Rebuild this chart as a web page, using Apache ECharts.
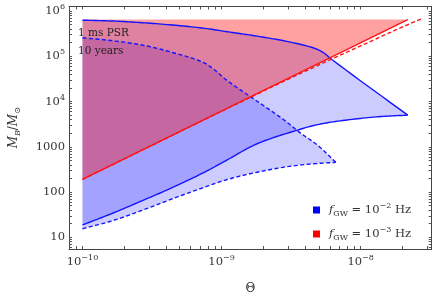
<!DOCTYPE html>
<html><head><meta charset="utf-8">
<script src="https://cdn.jsdelivr.net/npm/echarts@6/dist/echarts.min.js"></script>
<style>html,body{margin:0;padding:0;background:#fff}#c{width:436px;height:300px}</style>
</head><body><div id="c"></div>
<script>
// ---- data (Theta, M_B/M_sun) ----
const xMajor = [1e-10, 1e-9, 1e-8];
const yMajor = [10, 100, 1000, 1e4, 1e5, 1e6];

const redSolidTheta = [1e-10, 2.18e-8];
const redSolidM     = [191, 6.5e5];
const redTopM = 6.5e5;

const redDashTheta = [1e-10, 1e-9, 3e-9, 1e-8, 2.17e-8, 2.76e-8];
const redDashM     = [191, 6100, 31000, 1.7e5, 4.97e5, 6.8e5];

const blueSolidTopTheta = [1e-10, 1.59e-10, 2.70e-10, 4.66e-10, 7.91e-10, 1.05e-9, 1.80e-9, 3.07e-9, 4.70e-9, 5.41e-9, 5.96e-9, 6.34e-9, 2.18e-8];
const blueSolidTopM     = [6.28e5, 6.04e5, 5.53e5, 4.84e5, 4.08e5, 3.56e5, 2.79e5, 2.08e5, 1.49e5, 1.20e5, 9.38e4, 8.1e4, 5010];

const blueSolidBotTheta = [1e-10, 1.59e-10, 2.70e-10, 4.66e-10, 7.91e-10, 1.09e-9, 1.80e-9, 3.08e-9, 5.24e-9, 8.32e-9, 1.41e-8, 2.18e-8];
const blueSolidBotM     = [18.8, 32.7, 65.0, 135, 297, 508, 1170, 2070, 3230, 3980, 4680, 5010];

const blueDashTopTheta = [1e-10, 1.59e-10, 2.72e-10, 4.63e-10, 7.50e-10, 8.79e-10, 1.06e-9, 1.67e-9, 2.85e-9, 3.72e-9, 4.86e-9, 6.62e-9];
const blueDashTopM     = [2.56e5, 2.24e5, 1.76e5, 1.17e5, 7.16e4, 5.16e4, 3.16e4, 1.19e4, 3800, 1980, 1110, 454];

const blueDashBotTheta = [1e-10, 1.59e-10, 2.70e-10, 4.66e-10, 7.91e-10, 1.05e-9, 1.80e-9, 3.08e-9, 4.60e-9, 6.62e-9];
const blueDashBotM     = [15.5, 22.6, 39.8, 75.4, 135, 182, 275, 370, 423, 454];

const legendNames = ['fGW2', 'fGW3'];
const legendExp = {fGW2: '−2', fGW3: '−3'};
const annotations = ['1 ms PSR', '10 years'];

// ---- helpers ----
const FONT = '"DejaVu Serif", "Liberation Serif", serif';
const BLUE = '#1414ff', RED = '#ff1414';
function zip(a, b) { return a.map((v, i) => [v, b[i]]); }
function minorTicks(lo, hi) {
  const out = [];
  for (let e = Math.floor(Math.log10(lo)) - 1; e <= Math.ceil(Math.log10(hi)); e++) {
    for (let k = 1; k <= 9; k++) {
      const v = k * Math.pow(10, e);
      if (v >= lo && v <= hi) out.push(v);
    }
  }
  return out;
}
function supLabel(v) {
  const e = Math.round(Math.log10(v));
  return '10{p|' + (e < 0 ? '−' : '') + Math.abs(e) + '}';
}
// monotone cubic rendering of a curve through pixel points (x increasing)
function smoothPx(P) {
  const n = P.length;
  if (n < 3) return P.slice();
  const dx = [], m = [], t = [];
  for (let i = 0; i < n - 1; i++) { dx[i] = P[i + 1][0] - P[i][0]; m[i] = (P[i + 1][1] - P[i][1]) / dx[i]; }
  t[0] = m[0]; t[n - 1] = m[n - 2];
  for (let i = 1; i < n - 1; i++) {
    if (m[i - 1] * m[i] <= 0) t[i] = 0;
    else t[i] = 3 * (dx[i - 1] + dx[i]) / ((2 * dx[i] + dx[i - 1]) / m[i - 1] + (dx[i] + 2 * dx[i - 1]) / m[i]);
  }
  const out = [];
  for (let i = 0; i < n - 1; i++) {
    const steps = 12;
    for (let s = 0; s < steps; s++) {
      const h = s / steps, h2 = h * h, h3 = h2 * h;
      const a = 2 * h3 - 3 * h2 + 1, b = h3 - 2 * h2 + h, c = -2 * h3 + 3 * h2, d = h3 - h2;
      out.push([P[i][0] + h * dx[i], a * P[i][1] + b * dx[i] * t[i] + c * P[i + 1][1] + d * dx[i] * t[i + 1]]);
    }
  }
  out.push(P[n - 1]);
  return out;
}

const xMin = 8.0e-11, xMax = 3.24e-8, yMin = 5.53, yMax = 1.26e6;

const redLine = zip(redSolidTheta, redSolidM);
const redDash = zip(redDashTheta, redDashM);
const solidTop = zip(blueSolidTopTheta, blueSolidTopM);
const solidBot = zip(blueSolidBotTheta, blueSolidBotM);
const dashTop = zip(blueDashTopTheta, blueDashTopM);
const dashBot = zip(blueDashBotTheta, blueDashBotM);

// region between an upper curve and a lower curve (both listed left to right)
function regionSeries(name, upper, lower, fill, color) {
  return {
    type: 'custom', name: name, coordinateSystem: 'cartesian2d',
    data: upper.concat(lower), encode: {x: 0, y: 1}, silent: true, animation: false,
    itemStyle: {color: color},
    renderItem: function (params, api) {
      if (params.dataIndex !== 0) return null;
      const up = smoothPx(upper.map(p => api.coord(p)));
      const lo = smoothPx(lower.map(p => api.coord(p)));
      return {type: 'polygon', shape: {points: up.concat(lo.reverse())},
              style: {fill: fill, stroke: null}};
    }
  };
}
function curveSeries(name, pts, color, dashed) {
  return {
    type: 'custom', name: name, coordinateSystem: 'cartesian2d',
    data: pts, encode: {x: 0, y: 1}, silent: true, animation: false,
    itemStyle: {color: color},
    renderItem: function (params, api) {
      if (params.dataIndex !== 0) return null;
      return {type: 'polyline', shape: {points: smoothPx(pts.map(p => api.coord(p)))},
              style: {stroke: color, lineWidth: 1.4, fill: null, lineDash: dashed ? [4, 2.5] : null}};
    }
  };
}

const axisLineStyle = {color: '#444', width: 1};
function xAxisDef(pos, showLabel) {
  return {
    type: 'log', logBase: 10, min: xMin, max: xMax, position: pos,
    axisLine: {show: true, onZero: false, lineStyle: axisLineStyle},
    axisTick: {show: true, inside: true, length: 3, customValues: minorTicks(xMin, xMax), lineStyle: {color: '#555'}},
    axisLabel: {show: showLabel, customValues: xMajor, formatter: supLabel,
      fontFamily: FONT, fontSize: 11.5, color: '#333', margin: 5, lineHeight: 16,
      rich: {p: {fontFamily: FONT, fontSize: 8, verticalAlign: 'top', color: '#333'}}},
    splitLine: {show: false}, minorTick: {show: false},
    name: showLabel ? 'Θ' : '', nameLocation: 'middle', nameGap: 34,
    nameTextStyle: {fontFamily: FONT, fontSize: 12, color: '#333'}
  };
}
function yAxisDef(pos, showLabel) {
  return {
    type: 'log', logBase: 10, min: yMin, max: yMax, position: pos,
    axisLine: {show: true, onZero: false, lineStyle: axisLineStyle},
    axisTick: {show: true, inside: true, length: 3, customValues: minorTicks(yMin, yMax), lineStyle: {color: '#555'}},
    axisLabel: {show: showLabel, customValues: yMajor,
      formatter: v => (v < 1e4 ? String(Math.round(v)) : supLabel(v)),
      fontFamily: FONT, fontSize: 11.5, color: '#333', margin: 4, lineHeight: 16,
      rich: {p: {fontFamily: FONT, fontSize: 8, verticalAlign: 'top', color: '#333'}}},
    splitLine: {show: false}, minorTick: {show: false},
    name: showLabel ? '{i|M}{s|B}{n|/}{i|M}{s|⊙}' : '', nameLocation: 'middle', nameGap: 47,
    nameTextStyle: {fontFamily: FONT, fontSize: 12, color: '#333',
      rich: {
        i: {fontFamily: FONT, fontStyle: 'italic', fontSize: 12, color: '#333', lineHeight: 16},
        n: {fontFamily: FONT, fontSize: 12, color: '#333', lineHeight: 16},
        s: {fontFamily: FONT, fontStyle: 'italic', fontSize: 8, color: '#333', verticalAlign: 'bottom'}
      }}
  };
}

const chart = echarts.init(document.getElementById('c'), null, {renderer: 'canvas'});
chart.setOption({
  animation: false,
  backgroundColor: '#fff',
  grid: {left: 57, right: 4.3, top: 6.5, bottom: 41.7, containLabel: false},
  xAxis: [xAxisDef('bottom', true), xAxisDef('top', false)],
  yAxis: [yAxisDef('left', true), yAxisDef('right', false)],
  legend: {
    data: legendNames.map(n => ({name: n, icon: 'rect'})),
    orient: 'vertical', left: 308, top: 197, itemWidth: 7, itemHeight: 7, itemGap: 8,
    selectedMode: false,
    formatter: n => '{i|f}{s|GW}{t| = 10}{p|' + legendExp[n] + '}{t| Hz}',
    textStyle: {fontFamily: FONT, fontSize: 11.5, color: '#333',
      rich: {
        i: {fontFamily: FONT, fontStyle: 'italic', fontSize: 11.5, color: '#333', padding: [0, 0, 0, 4], lineHeight: 16},
        t: {fontFamily: FONT, fontSize: 11.5, color: '#333', lineHeight: 16},
        s: {fontFamily: FONT, fontSize: 8, color: '#333', verticalAlign: 'bottom'},
        p: {fontFamily: FONT, fontSize: 8, color: '#333', verticalAlign: 'top'}
      }}
  },
  graphic: [
    {type: 'text', left: 78, top: 28, z: 100, silent: true, style: {text: annotations[0], font: '10.5px ' + FONT, fill: '#222'}},
    {type: 'text', left: 78, top: 46, z: 100, silent: true, style: {text: annotations[1], font: '10.5px ' + FONT, fill: '#222'}}
  ],
  series: [
    regionSeries('fGW2', solidTop, solidBot, 'rgba(0,0,255,0.2)', '#0000ff'),
    regionSeries('blueDashRegion', dashTop, dashBot, 'rgba(0,0,255,0.2)', '#0000ff'),
    regionSeries('fGW3', [[redSolidTheta[0], redTopM], [redSolidTheta[1], redTopM]], redLine, 'rgba(255,0,0,0.37)', '#ff0000'),
    curveSeries('bst', solidTop, BLUE, false),
    curveSeries('bsb', solidBot, BLUE, false),
    curveSeries('bdt', dashTop, BLUE, true),
    curveSeries('bdb', dashBot, BLUE, true),
    curveSeries('rs', redLine, RED, false),
    curveSeries('rd', redDash, RED, true)
  ]
});
</script></body></html>
